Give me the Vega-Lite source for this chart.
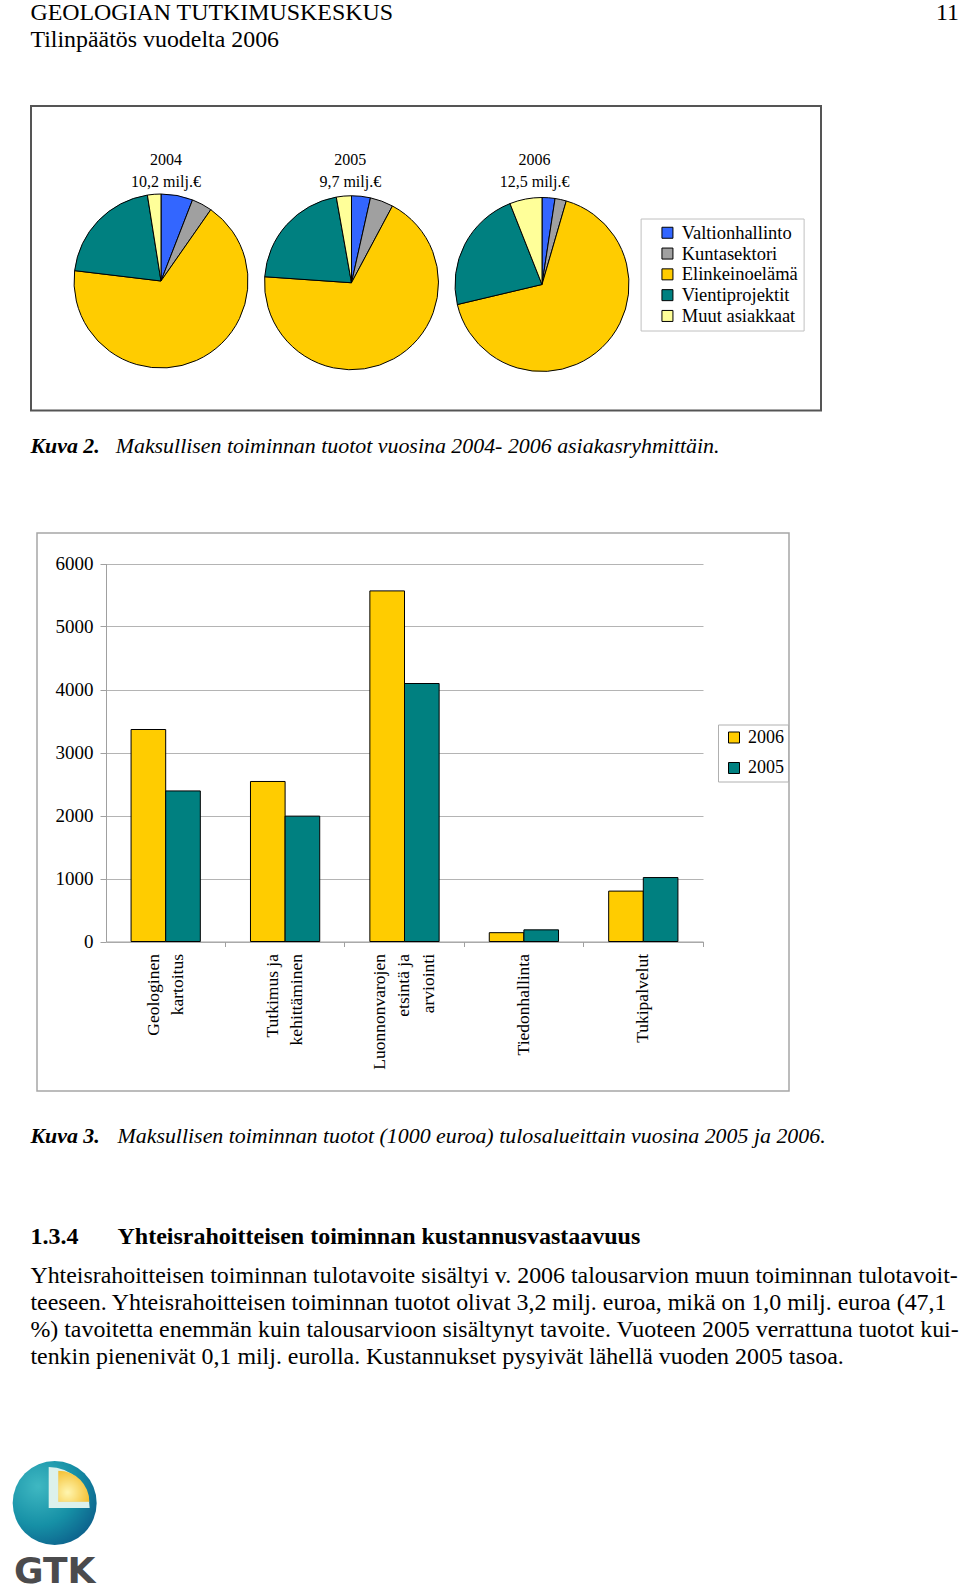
{
  "$schema": "https://vega.github.io/schema/vega-lite/v6.json",
  "background": "white",
  "padding": 0,
  "autosize": {"type": "pad"},
  "spacing": 0,
  "bounds": "full",
  "config": {
    "view": {"stroke": null, "fill": "white"},
    "text": {"font": "Liberation Serif", "color": "black"}
  },
  "resolve": {"scale": {"color": "independent", "theta": "independent"}, "legend": {"color": "independent"}},
  "vconcat": [
    {
      "width": 960,
      "height": 104.5,
      "data": {"values": [
        {"text": "GEOLOGIAN TUTKIMUSKESKUS", "line": 1, "col": 0},
        {"text": "Tilinpäätös vuodelta 2006", "line": 2, "col": 0},
        {"text": "11", "line": 1, "col": 1}
      ]},
      "encoding": {
        "text": {"field": "text", "type": "nominal"},
        "x": {"field": "col", "type": "quantitative", "scale": {"domain": [0, 1], "range": [30.4, 959], "nice": false, "zero": false}, "axis": null},
        "y": {"field": "line", "type": "quantitative", "scale": {"domain": [1, 2], "range": [19.5, 46.5], "nice": false, "zero": false}, "axis": null}
      },
      "layer": [
        {"transform": [{"filter": "datum.col == 0"}], "mark": {"type": "text", "align": "left", "baseline": "alphabetic", "font": "Liberation Serif", "fontSize": 23.9, "color": "black"}},
        {"transform": [{"filter": "datum.col == 1"}], "mark": {"type": "text", "align": "right", "baseline": "alphabetic", "font": "Liberation Serif", "fontSize": 23.9, "color": "black"}}
      ]
    },
    {
      "spacing": 0,
      "bounds": "full",
      "resolve": {"scale": {"color": "independent", "theta": "independent"}, "legend": {"color": "independent"}},
      "hconcat": [
        {"width": 29.4, "height": 304.5, "data": {"values": []}, "mark": "point", "encoding": {}},
        {
          "width": 790,
          "height": 304.5,
          "view": {"stroke": "#555555", "strokeWidth": 2, "fill": "white"},
          "layer": [
            {
              "data": {"values": [
                {"year": "2004", "label": "2004\n10,2 milj.€"},
                {"year": "2005", "label": "2005\n9,7 milj.€"},
                {"year": "2006", "label": "2006\n12,5 milj.€"}
              ]},
              "mark": {"type": "text", "lineBreak": "\n", "font": "Liberation Serif", "fontSize": 16, "lineHeight": 22.5, "align": "center", "baseline": "middle", "color": "black"},
              "encoding": {
                "text": {"field": "label", "type": "nominal"},
                "x": {"field": "year", "type": "ordinal", "scale": {"type": "point", "range": [135, 503.6], "padding": 0}, "axis": null},
                "y": {"field": "year", "type": "ordinal", "scale": {"type": "point", "range": [53.75, 53.75], "padding": 0}, "axis": null}
              }
            },
            {
              "data": {"values": [
                {"year": "2004", "group": "Valtionhallinto", "share": 5.9, "ord": 1},
                {"year": "2004", "group": "Kuntasektori", "share": 3.8, "ord": 2},
                {"year": "2004", "group": "Elinkeinoelämä", "share": 67.2, "ord": 3},
                {"year": "2004", "group": "Vientiprojektit", "share": 20.6, "ord": 4},
                {"year": "2004", "group": "Muut asiakkaat", "share": 2.5, "ord": 5},
                {"year": "2005", "group": "Valtionhallinto", "share": 3.5, "ord": 1},
                {"year": "2005", "group": "Kuntasektori", "share": 4.3, "ord": 2},
                {"year": "2005", "group": "Elinkeinoelämä", "share": 68.3, "ord": 3},
                {"year": "2005", "group": "Vientiprojektit", "share": 21.1, "ord": 4},
                {"year": "2005", "group": "Muut asiakkaat", "share": 2.8, "ord": 5},
                {"year": "2006", "group": "Valtionhallinto", "share": 2.4, "ord": 1},
                {"year": "2006", "group": "Kuntasektori", "share": 2.1, "ord": 2},
                {"year": "2006", "group": "Elinkeinoelämä", "share": 66.8, "ord": 3},
                {"year": "2006", "group": "Vientiprojektit", "share": 22.7, "ord": 4},
                {"year": "2006", "group": "Muut asiakkaat", "share": 6.0, "ord": 5}
              ]},
              "encoding": {
                "x": {"field": "year", "type": "ordinal", "scale": {"type": "point", "range": [130, 511], "padding": 0}, "axis": null},
                "y": {"field": "year", "type": "ordinal", "scale": {"type": "point", "range": [175, 178.5], "padding": 0}, "axis": null},
                "theta": {"field": "share", "type": "quantitative", "stack": true, "scale": {"domain": [0, 100]}},
                "order": {"field": "ord", "type": "quantitative"},
                "color": {
                  "field": "group", "type": "nominal",
                  "scale": {"domain": ["Valtionhallinto", "Kuntasektori", "Elinkeinoelämä", "Vientiprojektit", "Muut asiakkaat"], "range": ["#3366FF", "#A0A0A0", "#FFCC00", "#008080", "#FFFF99"]},
                  "legend": {"orient": "none", "legendX": 609.6, "legendY": 112.5, "title": null, "symbolType": "square", "symbolSize": 121, "symbolStrokeColor": "black", "symbolStrokeWidth": 1, "labelFont": "Liberation Serif", "labelFontSize": 18.5, "labelColor": "black", "labelLimit": 300, "strokeColor": "#c0c0c0", "fillColor": "white", "padding": 5, "rowPadding": 1.8, "symbolOffset": 12.6, "labelOffset": 5}
                }
              },
              "layer": [
                {"transform": [{"filter": "datum.year == '2004'"}], "mark": {"type": "arc", "outerRadius": 87, "stroke": "black", "strokeWidth": 1}},
                {"transform": [{"filter": "datum.year == '2005'"}], "mark": {"type": "arc", "outerRadius": 87, "stroke": "black", "strokeWidth": 1}},
                {"transform": [{"filter": "datum.year == '2006'"}], "mark": {"type": "arc", "outerRadius": 87, "stroke": "black", "strokeWidth": 1}}
              ]
            }
          ],
          "resolve": {"scale": {"x": "independent", "y": "independent"}}
        }
      ]
    },
    {
      "width": 960,
      "height": 119.25,
      "data": {"values": [
        {"text": "Kuva 2.", "line": 1, "col": 0},
        {"text": "Maksullisen toiminnan tuotot vuosina 2004- 2006 asiakasryhmittäin.", "line": 1, "col": 1}
      ]},
      "encoding": {
        "text": {"field": "text", "type": "nominal"},
        "x": {"field": "col", "type": "quantitative", "scale": {"domain": [0, 1], "range": [30.4, 115.7], "nice": false, "zero": false}, "axis": null},
        "y": {"field": "line", "type": "quantitative", "scale": {"domain": [0, 1], "range": [0, 41], "nice": false, "zero": false}, "axis": null}
      },
      "layer": [
        {"transform": [{"filter": "datum.col == 0"}], "mark": {"type": "text", "align": "left", "baseline": "alphabetic", "font": "Liberation Serif", "fontSize": 21.9, "fontStyle": "italic", "fontWeight": "bold", "color": "black"}},
        {"transform": [{"filter": "datum.col == 1"}], "mark": {"type": "text", "align": "left", "baseline": "alphabetic", "font": "Liberation Serif", "fontSize": 21.9, "fontStyle": "italic", "color": "black"}}
      ]
    },
    {
      "spacing": 0,
      "bounds": "full",
      "resolve": {"scale": {"color": "independent"}, "legend": {"color": "independent"}},
      "hconcat": [
        {"width": 35.75, "height": 558, "data": {"values": []}, "mark": "point", "encoding": {}},
        {
          "width": 752,
          "height": 558,
          "view": {"stroke": "#a6a6a6", "strokeWidth": 1.5, "fill": "white"},
          "data": {"values": [
            {"area": "Geologinen kartoitus", "year": "2006", "value": 3365},
            {"area": "Geologinen kartoitus", "year": "2005", "value": 2390},
            {"area": "Tutkimus ja kehittäminen", "year": "2006", "value": 2540},
            {"area": "Tutkimus ja kehittäminen", "year": "2005", "value": 1990},
            {"area": "Luonnonvarojen etsintä ja arviointi", "year": "2006", "value": 5565},
            {"area": "Luonnonvarojen etsintä ja arviointi", "year": "2005", "value": 4095},
            {"area": "Tiedonhallinta", "year": "2006", "value": 140},
            {"area": "Tiedonhallinta", "year": "2005", "value": 185},
            {"area": "Tukipalvelut", "year": "2006", "value": 800},
            {"area": "Tukipalvelut", "year": "2005", "value": 1015}
          ]},
          "layer": [
            {
              "mark": {"type": "bar", "stroke": "black", "strokeWidth": 1},
              "encoding": {
                "x": {
                  "field": "area", "type": "nominal", "sort": null,
                  "scale": {"type": "band", "range": [69, 666], "paddingInner": 0.42, "paddingOuter": 0.21},
                  "axis": {
                    "title": null, "orient": "bottom", "offset": -149.5,
                    "labelAngle": -90, "labelAlign": "right", "labelBaseline": "middle",
                    "labelExpr": "datum.label == 'Geologinen kartoitus' ? ['Geologinen', 'kartoitus'] : datum.label == 'Tutkimus ja kehittäminen' ? ['Tutkimus ja', 'kehittäminen'] : datum.label == 'Luonnonvarojen etsintä ja arviointi' ? ['Luonnonvarojen', 'etsintä ja', 'arviointi'] : datum.label",
                    "labelOffset": {"condition": [{"test": "datum.value == 'Luonnonvarojen etsintä ja arviointi'", "value": -24.4}, {"test": "datum.value == 'Geologinen kartoitus' || datum.value == 'Tutkimus ja kehittäminen'", "value": -12.2}], "value": 0},
                    "labelFont": "Liberation Serif", "labelFontSize": 17.5, "labelColor": "black", "labelLineHeight": 24.4,
                    "labelPadding": 12, "labelLimit": 400, "labelOverlap": false,
                    "domainColor": "#a0a0a0", "ticks": false, "grid": false
                  }
                },
                "xOffset": {"field": "year", "type": "nominal", "sort": ["2006", "2005"]},
                "y": {
                  "field": "value", "type": "quantitative",
                  "scale": {"domain": [0, 6000], "range": [408.5, 30.5], "nice": false, "zero": true},
                  "axis": {
                    "title": null, "orient": "left", "offset": -69,
                    "values": [0, 1000, 2000, 3000, 4000, 5000, 6000], "format": "d",
                    "grid": true, "gridColor": "#b4b4b4", "gridWidth": 1,
                    "domainColor": "#a0a0a0", "tickColor": "#a0a0a0", "tickSize": 6,
                    "labelPadding": 7, "labelFont": "Liberation Serif", "labelFontSize": 19, "labelColor": "black"
                  }
                },
                "color": {
                  "field": "year", "type": "nominal",
                  "scale": {"domain": ["2006", "2005"], "range": ["#FFCC00", "#008080"]},
                  "legend": {"orient": "none", "legendX": 681, "legendY": 191.5, "title": null, "symbolType": "square", "symbolSize": 121, "symbolStrokeColor": "black", "symbolStrokeWidth": 1, "labelFont": "Liberation Serif", "labelFontSize": 18, "labelColor": "black", "strokeColor": "#b0b0b0", "fillColor": "white", "padding": 4, "rowPadding": 12.5, "symbolOffset": 3, "labelOffset": 5}
                }
              }
            },
            {
              "mark": {"type": "point", "opacity": 0},
              "encoding": {
                "x": {
                  "field": "area", "type": "nominal", "sort": null,
                  "scale": {"type": "band", "range": [69, 666], "paddingInner": 0, "paddingOuter": 0},
                  "axis": {"title": null, "orient": "bottom", "offset": -149.5, "labels": false, "domain": false, "grid": false, "ticks": true, "tickColor": "#a0a0a0", "tickSize": 5, "bandPosition": 1}
                }
              }
            }
          ],
          "resolve": {"scale": {"x": "independent"}, "axis": {"x": "independent"}}
        }
      ]
    },
    {
      "width": 960,
      "height": 170.25,
      "data": {"values": [
        {"text": "Kuva 3.", "kind": "caption", "line": 1, "col": 0},
        {"text": "Maksullisen toiminnan tuotot (1000 euroa) tulosalueittain vuosina 2005 ja 2006.", "kind": "caption", "line": 1, "col": 1},
        {"text": "1.3.4", "kind": "heading", "line": 2, "col": 0},
        {"text": "Yhteisrahoitteisen toiminnan kustannusvastaavuus", "kind": "heading", "line": 2, "col": 1}
      ]},
      "encoding": {
        "text": {"field": "text", "type": "nominal"},
        "x": {"field": "col", "type": "quantitative", "scale": {"domain": [0, 1], "range": [30.4, 117.5], "nice": false, "zero": false}, "axis": null},
        "y": {"field": "line", "type": "quantitative", "scale": {"domain": [1, 2], "range": [50.75, 151.75], "nice": false, "zero": false}, "axis": null}
      },
      "layer": [
        {"transform": [{"filter": "datum.kind == 'caption' && datum.col == 0"}], "mark": {"type": "text", "align": "left", "baseline": "alphabetic", "font": "Liberation Serif", "fontSize": 21.9, "fontStyle": "italic", "fontWeight": "bold", "color": "black"}},
        {"transform": [{"filter": "datum.kind == 'caption' && datum.col == 1"}], "mark": {"type": "text", "align": "left", "baseline": "alphabetic", "font": "Liberation Serif", "fontSize": 21.9, "fontStyle": "italic", "color": "black"}},
        {"transform": [{"filter": "datum.kind == 'heading'"}], "mark": {"type": "text", "align": "left", "baseline": "alphabetic", "font": "Liberation Serif", "fontSize": 24, "fontWeight": "bold", "color": "black"}}
      ]
    },
    {
      "width": 960,
      "height": 180,
      "data": {"values": [
        {"text": "Yhteisrahoitteisen toiminnan tulotavoite sisältyi v. 2006 talousarvion muun toiminnan tulotavoit-", "line": 1, "col": 0},
        {"text": "teeseen. Yhteisrahoitteisen toiminnan tuotot olivat 3,2 milj. euroa, mikä on 1,0 milj. euroa (47,1", "line": 2, "col": 0},
        {"text": "%) tavoitetta enemmän kuin talousarvioon sisältynyt tavoite. Vuoteen 2005 verrattuna tuotot kui-", "line": 3, "col": 0},
        {"text": "tenkin pienenivät 0,1 milj. eurolla. Kustannukset pysyivät lähellä vuoden 2005 tasoa.", "line": 4, "col": 0}
      ]},
      "mark": {"type": "text", "align": "left", "baseline": "alphabetic", "font": "Liberation Serif", "fontSize": 23.9, "color": "black"},
      "encoding": {
        "text": {"field": "text", "type": "nominal"},
        "x": {"field": "col", "type": "quantitative", "scale": {"domain": [0, 1], "range": [30.4, 960], "nice": false, "zero": false}, "axis": null},
        "y": {"field": "line", "type": "quantitative", "scale": {"domain": [1, 4], "range": [20, 101], "nice": false, "zero": false}, "axis": null}
      }
    },
    {
      "width": 109.4,
      "height": 120,
      "title": {"text": "GTK", "orient": "bottom", "anchor": "middle", "frame": "group", "offset": 20, "baseline": "alphabetic", "font": "DejaVu Sans", "fontSize": 36, "fontWeight": "bold", "color": "#4b4b4d"},
      "data": {"values": [
        {"part": "sphere", "start": 0, "end": 100},
        {"part": "mantle", "start": 0, "end": 25},
        {"part": "core", "start": 0, "end": 25}
      ]},
      "encoding": {
        "theta": {"field": "start", "type": "quantitative", "stack": null, "scale": {"domain": [0, 100]}},
        "theta2": {"field": "end"}
      },
      "layer": [
        {"transform": [{"filter": "datum.part == 'sphere'"}], "mark": {"type": "arc", "outerRadius": 42, "fill": {"gradient": "radial", "x1": 0.3, "y1": 0.3, "r1": 0, "x2": 0.3, "y2": 0.3, "r2": 0.85, "stops": [{"offset": 0, "color": "#3fb8c2"}, {"offset": 0.55, "color": "#1690a6"}, {"offset": 1, "color": "#0b5a88"}]}}},
        {"transform": [{"filter": "datum.part == 'mantle'"}], "mark": {"type": "arc", "outerRadius": 41, "fill": "#dcf1ec", "xOffset": -6, "yOffset": 5}},
        {"transform": [{"filter": "datum.part == 'core'"}], "mark": {"type": "arc", "outerRadius": 31, "xOffset": 3.6, "yOffset": -1.3, "fill": {"gradient": "radial", "x1": 0.3, "y1": 0.7, "r1": 0, "x2": 0.3, "y2": 0.7, "r2": 0.9, "stops": [{"offset": 0, "color": "#fff6b0"}, {"offset": 1, "color": "#f2b418"}]}}}
      ]
    }
  ]
}
